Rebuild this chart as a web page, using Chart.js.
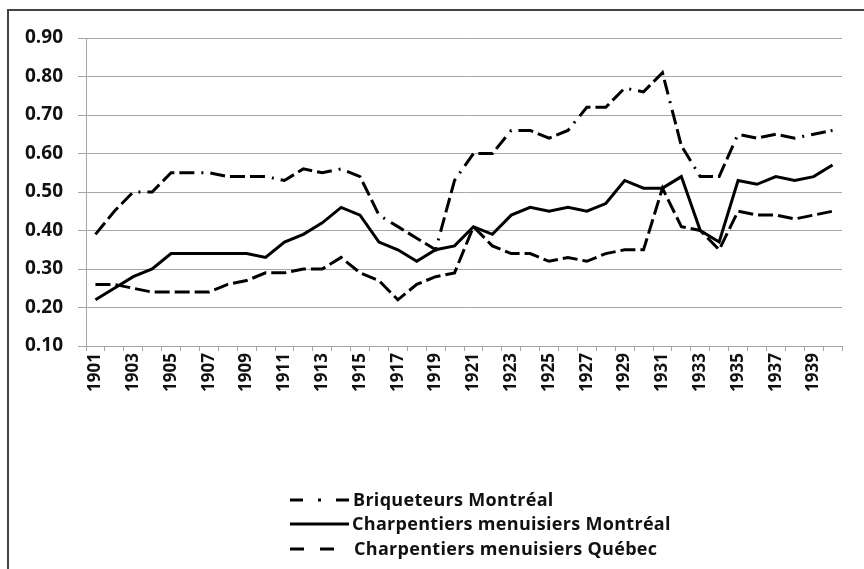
<!DOCTYPE html>
<html>
<head>
<meta charset="utf-8">
<script src="https://cdn.jsdelivr.net/npm/chart.js@4"></script>
<style>
  html, body { margin: 0; padding: 0; background: #fff; }
  #wrap { position: relative; width: 864px; height: 569px; overflow: hidden; }
  #frame { position: absolute; left: 7px; top: 9px; width: 900px; height: 600px;
    border-top: 2px solid #444; border-left: 2px solid #444; }
  #c { position: absolute; left: 0; top: 0; }
  .leg { position: absolute; left: 289px; height: 20px; font: 700 18px "Open Sans", sans-serif;
    letter-spacing: 0.3px; color: #111; white-space: nowrap; }
  .leg svg { position: absolute; left: 0; top: 0; }
  .leg span { position: absolute; top: -3px; }
</style>
</head>
<body>
<div id="wrap">
  <div id="frame"></div>
  <canvas id="c" width="864" height="569"></canvas>
  <div class="leg" style="top:490px">
    <svg width="62" height="20"><line x1="1" y1="10" x2="60" y2="10" stroke="#000" stroke-width="3" stroke-dasharray="13,15,3,15,13"/></svg>
    <span style="left:64px">Briqueteurs Montréal</span>
  </div>
  <div class="leg" style="top:514px">
    <svg width="62" height="20"><line x1="1" y1="10" x2="60" y2="10" stroke="#000" stroke-width="3"/></svg>
    <span style="left:63px">Charpentiers menuisiers Montréal</span>
  </div>
  <div class="leg" style="top:539px">
    <svg width="62" height="20"><line x1="1" y1="10" x2="45" y2="10" stroke="#000" stroke-width="3" stroke-dasharray="14,16"/></svg>
    <span style="left:65px">Charpentiers menuisiers Québec</span>
  </div>
</div>
<script>
const years = [];
for (let y = 1901; y <= 1940; y++) years.push(String(y));

const briqueteursMtl = [0.39, 0.45, 0.50, 0.50, 0.55, 0.55, 0.55, 0.54, 0.54, 0.54,
  0.53, 0.56, 0.55, 0.56, 0.54, 0.44, 0.41, 0.38, 0.35, 0.53,
  0.60, 0.60, 0.66, 0.66, 0.64, 0.66, 0.72, 0.72, 0.77, 0.76,
  0.81, 0.62, 0.54, 0.54, 0.65, 0.64, 0.65, 0.64, 0.65, 0.66];

const charpMtl = [0.22, 0.25, 0.28, 0.30, 0.34, 0.34, 0.34, 0.34, 0.34, 0.33,
  0.37, 0.39, 0.42, 0.46, 0.44, 0.37, 0.35, 0.32, 0.35, 0.36,
  0.41, 0.39, 0.44, 0.46, 0.45, 0.46, 0.45, 0.47, 0.53, 0.51,
  0.51, 0.54, 0.40, 0.37, 0.53, 0.52, 0.54, 0.53, 0.54, 0.57];

const charpQc = [0.26, 0.26, 0.25, 0.24, 0.24, 0.24, 0.24, 0.26, 0.27, 0.29,
  0.29, 0.30, 0.30, 0.33, 0.29, 0.27, 0.22, 0.26, 0.28, 0.29,
  0.41, 0.36, 0.34, 0.34, 0.32, 0.33, 0.32, 0.34, 0.35, 0.35,
  0.51, 0.41, 0.40, 0.35, 0.45, 0.44, 0.44, 0.43, 0.44, 0.45];

const yTicks = ['0.10', '0.20', '0.30', '0.40', '0.50', '0.60', '0.70', '0.80', '0.90'];

const gridGray = '#a6a6a6';
const tickFont = { family: '"Open Sans", sans-serif', weight: 'bold' };

new Chart(document.getElementById('c'), {
  type: 'line',
  data: {
    labels: years,
    datasets: [
      {
        label: 'Briqueteurs Montréal',
        data: briqueteursMtl,
        borderColor: '#000',
        borderWidth: 3,
        borderDash: [15, 5, 15, 5, 15, 7, 2, 7],
        pointRadius: 0,
        tension: 0,
      },
      {
        label: 'Charpentiers menuisiers Montréal',
        data: charpMtl,
        borderColor: '#000',
        borderWidth: 3,
        pointRadius: 0,
        tension: 0,
      },
      {
        label: 'Charpentiers menuisiers Québec',
        data: charpQc,
        borderColor: '#000',
        borderWidth: 3,
        borderDash: [15, 5],
        pointRadius: 0,
        tension: 0,
      },
    ],
  },
  options: {
    responsive: false,
    animation: false,
    layout: { padding: { top: 38, right: 22, bottom: 163, left: 0 } },
    plugins: {
      legend: { display: false },
      tooltip: { enabled: false },
    },
    scales: {
      x: {
        offset: true,
        afterFit: s => { s.height = 60; },
        border: { color: gridGray, width: 1 },
        grid: { offset: true, drawOnChartArea: false, drawTicks: true, tickLength: 5, color: gridGray },
        ticks: {
          autoSkip: false,
          maxRotation: 90,
          minRotation: 90,
          padding: 2,
          color: '#111',
          font: { ...tickFont, size: 17 },
          callback: (v, i) => (i % 2 === 0 ? years[i] : ''),
        },
      },
      y: {
        min: 0.1,
        max: 0.9,
        afterFit: s => { s.width = 86; },
        border: { color: gridGray, width: 1 },
        grid: { color: gridGray, tickLength: 8 },
        ticks: {
          stepSize: 0.1,
          padding: 15,
          color: '#111',
          font: { ...tickFont, size: 19 },
          callback: v => yTicks.find(t => Math.abs(parseFloat(t) - v) < 1e-6) || '',
        },
      },
    },
  },
});
</script>
</body>
</html>
